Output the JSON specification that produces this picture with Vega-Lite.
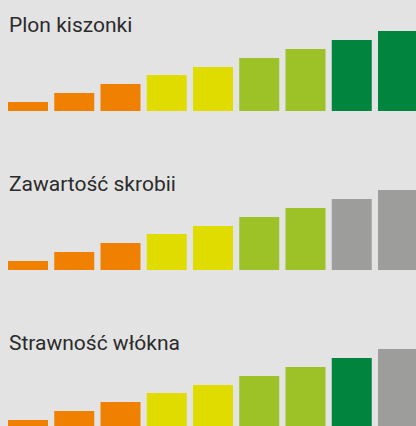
{
  "$schema": "https://vega.github.io/schema/vega-lite/v6.json",
  "background": "#e3e3e3",
  "padding": {"left": 7, "top": 15, "right": 0, "bottom": 0},
  "config": {
    "view": {"stroke": null},
    "font": "Roboto",
    "title": {"anchor": "start", "fontSize": 21, "fontWeight": "normal", "font": "Roboto", "color": "#2b2b2b", "baseline": "alphabetic", "offset": -5, "dx": 1},
    "concat": {"spacing": 63}
  },
  "datasets": {
    "bars": [
      {"panel": "Plon kiszonki", "cat": 1, "v": 9, "c": "o"},
      {"panel": "Plon kiszonki", "cat": 2, "v": 18, "c": "o"},
      {"panel": "Plon kiszonki", "cat": 3, "v": 27, "c": "o"},
      {"panel": "Plon kiszonki", "cat": 4, "v": 36, "c": "y"},
      {"panel": "Plon kiszonki", "cat": 5, "v": 44, "c": "y"},
      {"panel": "Plon kiszonki", "cat": 6, "v": 53, "c": "l"},
      {"panel": "Plon kiszonki", "cat": 7, "v": 62, "c": "l"},
      {"panel": "Plon kiszonki", "cat": 8, "v": 71, "c": "g"},
      {"panel": "Plon kiszonki", "cat": 9, "v": 80, "c": "g"},
      {"panel": "Zawartość skrobii", "cat": 1, "v": 9, "c": "o"},
      {"panel": "Zawartość skrobii", "cat": 2, "v": 18, "c": "o"},
      {"panel": "Zawartość skrobii", "cat": 3, "v": 27, "c": "o"},
      {"panel": "Zawartość skrobii", "cat": 4, "v": 36, "c": "y"},
      {"panel": "Zawartość skrobii", "cat": 5, "v": 44, "c": "y"},
      {"panel": "Zawartość skrobii", "cat": 6, "v": 53, "c": "l"},
      {"panel": "Zawartość skrobii", "cat": 7, "v": 62, "c": "l"},
      {"panel": "Zawartość skrobii", "cat": 8, "v": 71, "c": "x"},
      {"panel": "Zawartość skrobii", "cat": 9, "v": 80, "c": "x"},
      {"panel": "Strawność włókna", "cat": 1, "v": 9, "c": "o"},
      {"panel": "Strawność włókna", "cat": 2, "v": 18, "c": "o"},
      {"panel": "Strawność włókna", "cat": 3, "v": 27, "c": "o"},
      {"panel": "Strawność włókna", "cat": 4, "v": 36, "c": "y"},
      {"panel": "Strawność włókna", "cat": 5, "v": 44, "c": "y"},
      {"panel": "Strawność włókna", "cat": 6, "v": 53, "c": "l"},
      {"panel": "Strawność włókna", "cat": 7, "v": 62, "c": "l"},
      {"panel": "Strawność włókna", "cat": 8, "v": 71, "c": "g"},
      {"panel": "Strawność włókna", "cat": 9, "v": 80, "c": "x"}
    ]
  },
  "vconcat": [
    {
      "title": "Plon kiszonki",
      "width": 410, "height": 80,
      "data": {"name": "bars"},
      "transform": [{"filter": "datum.panel === 'Plon kiszonki'"}],
      "mark": {"type": "bar"},
      "encoding": {
        "x": {"field": "cat", "type": "ordinal", "axis": null, "scale": {"paddingInner": 0.135, "paddingOuter": 0}},
        "y": {"field": "v", "type": "quantitative", "axis": null, "scale": {"domain": [0, 80]}},
        "color": {"field": "c", "type": "nominal", "legend": null, "scale": {"domain": ["o", "y", "l", "g", "x"], "range": ["#f08100", "#e0dc00", "#9cc227", "#00843e", "#9d9d9b"]}}
      }
    },
    {
      "title": "Zawartość skrobii",
      "width": 410, "height": 80,
      "data": {"name": "bars"},
      "transform": [{"filter": "datum.panel === 'Zawartość skrobii'"}],
      "mark": {"type": "bar"},
      "encoding": {
        "x": {"field": "cat", "type": "ordinal", "axis": null, "scale": {"paddingInner": 0.135, "paddingOuter": 0}},
        "y": {"field": "v", "type": "quantitative", "axis": null, "scale": {"domain": [0, 80]}},
        "color": {"field": "c", "type": "nominal", "legend": null, "scale": {"domain": ["o", "y", "l", "g", "x"], "range": ["#f08100", "#e0dc00", "#9cc227", "#00843e", "#9d9d9b"]}}
      }
    },
    {
      "title": "Strawność włókna",
      "width": 410, "height": 80,
      "data": {"name": "bars"},
      "transform": [{"filter": "datum.panel === 'Strawność włókna'"}],
      "mark": {"type": "bar"},
      "encoding": {
        "x": {"field": "cat", "type": "ordinal", "axis": null, "scale": {"paddingInner": 0.135, "paddingOuter": 0}},
        "y": {"field": "v", "type": "quantitative", "axis": null, "scale": {"domain": [0, 80]}},
        "color": {"field": "c", "type": "nominal", "legend": null, "scale": {"domain": ["o", "y", "l", "g", "x"], "range": ["#f08100", "#e0dc00", "#9cc227", "#00843e", "#9d9d9b"]}}
      }
    }
  ]
}
